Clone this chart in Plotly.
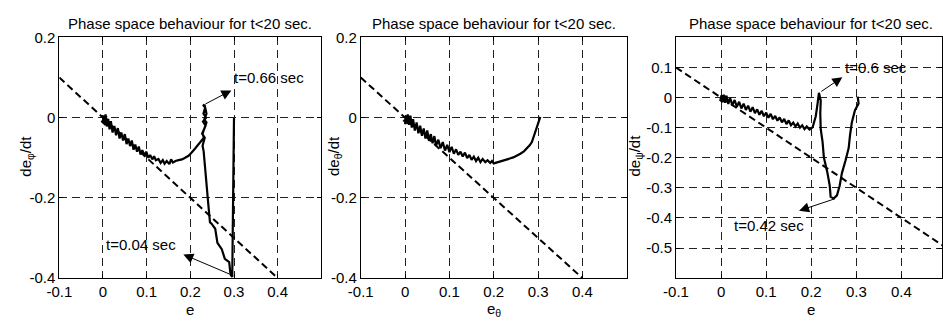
import plotly.graph_objects as go

FONT = "Arial, Liberation Sans, sans-serif"

title_text = "Phase space behaviour for t<20 sec."
ylabels = ["de<sub>φ</sub>/dt", "de<sub>θ</sub>/dt", "de<sub>ψ</sub>/dt"]
xlabels = ["e", "e<sub>θ</sub>", "e"]

x_ticks = [-0.1, 0, 0.1, 0.2, 0.3, 0.4]
x_ticktext = ["-0.1", "0", "0.1", "0.2", "0.3", "0.4"]
y_ticks_12 = [-0.4, -0.2, 0, 0.2]
y_ticktext_12 = ["-0.4", "-0.2", "0", "0.2"]
y_ticks_3 = [-0.5, -0.4, -0.3, -0.2, -0.1, 0, 0.1]
y_ticktext_3 = ["-0.5", "-0.4", "-0.3", "-0.2", "-0.1", "0", "0.1"]

# sliding surface s = e + de/dt = 0
surf_x_12 = [-0.1, 0.4]
surf_y_12 = [0.1, -0.4]
surf_x_3 = [-0.1, 0.5]
surf_y_3 = [0.1, -0.5]

# phi trajectory
phi_e = [0.300, 0.299, 0.298, 0.297, 0.296, 0.292, 0.289, 0.279, 0.272, 0.262, 0.260, 0.257,
         0.249, 0.245, 0.242, 0.238, 0.234, 0.2305, 0.228, 0.233, 0.227, 0.235, 0.229, 0.236,
         0.230, 0.234, 0.229, 0.233, 0.237, 0.232, 0.237, 0.233, 0.228, 0.231, 0.224, 0.220,
         0.211, 0.203, 0.196, 0.188, 0.181, 0.173, 0.166, 0.160, 0.156, 0.152, 0.146, 0.141,
         0.137, 0.132, 0.127, 0.121, 0.117, 0.113, 0.108, 0.104, 0.099, 0.095, 0.090, 0.086,
         0.082, 0.078, 0.074, 0.070, 0.066, 0.062, 0.058, 0.054, 0.050, 0.046, 0.042, 0.038,
         0.034, 0.030, 0.026, 0.022, 0.018, 0.015, 0.012, 0.009, 0.006, 0.004, 0.002, 0.000,
         0.008, -0.002, 0.006, 0.003, 0.010, -0.001, 0.004, 0.001]
phi_de = [0.000, -0.100, -0.200, -0.300, -0.397, -0.391, -0.360, -0.352, -0.328, -0.312, -0.296, -0.277,
          -0.265, -0.261, -0.226, -0.170, -0.127, -0.084, -0.070, -0.050, -0.040, -0.020, -0.010, 0.000,
          0.010, 0.025, 0.032, 0.030, 0.010, -0.005, -0.012, -0.025, -0.040, -0.050, -0.060, -0.066,
          -0.077, -0.087, -0.095, -0.100, -0.104, -0.106, -0.108, -0.112, -0.104, -0.116, -0.108, -0.115,
          -0.106, -0.113, -0.103, -0.106, -0.096, -0.104, -0.093, -0.100, -0.085, -0.095, -0.081, -0.092,
          -0.072, -0.085, -0.067, -0.080, -0.057, -0.071, -0.052, -0.066, -0.041, -0.057, -0.037, -0.052,
          -0.026, -0.044, -0.021, -0.037, -0.009, -0.029, -0.003, -0.022, 0.008, -0.016, 0.006, -0.014,
          0.004, -0.010, -0.018, 0.005, -0.006, -0.012, 0.002, -0.008]

# theta trajectory
theta_e = [0.305, 0.302, 0.299, 0.296, 0.293, 0.290, 0.286, 0.281, 0.275, 0.268, 0.260, 0.252,
           0.244, 0.236, 0.228, 0.220, 0.212, 0.205, 0.200, 0.196, 0.192, 0.186, 0.181, 0.175,
           0.170, 0.165, 0.160, 0.155, 0.150, 0.145, 0.140, 0.135, 0.130, 0.125, 0.120, 0.115,
           0.110, 0.105, 0.100, 0.095, 0.090, 0.085, 0.080, 0.075, 0.070, 0.066, 0.062, 0.058,
           0.054, 0.050, 0.046, 0.042, 0.038, 0.034, 0.030, 0.026, 0.022, 0.018, 0.015, 0.012,
           0.009, 0.006, 0.004, 0.002, 0.000, 0.007, -0.002, 0.005, 0.009, 0.001, 0.004]
theta_de = [0.002, -0.008, -0.020, -0.030, -0.042, -0.052, -0.061, -0.069, -0.077, -0.084, -0.090, -0.095,
            -0.099, -0.102, -0.105, -0.108, -0.110, -0.112, -0.114, -0.108, -0.113, -0.106, -0.111, -0.103,
            -0.111, -0.100, -0.108, -0.097, -0.105, -0.093, -0.101, -0.087, -0.097, -0.085, -0.093, -0.079,
            -0.090, -0.073, -0.086, -0.068, -0.082, -0.061, -0.076, -0.055, -0.070, -0.046, -0.064, -0.041,
            -0.058, -0.032, -0.052, -0.027, -0.045, -0.020, -0.039, -0.012, -0.032, -0.004, -0.025, 0.005,
            -0.018, 0.008, -0.014, 0.006, -0.016, 0.002, -0.008, -0.013, 0.004, -0.010, -0.002]

# psi trajectory
psi_e = [0.303, 0.305, 0.297, 0.290, 0.286, 0.283, 0.276, 0.268, 0.263, 0.257, 0.250, 0.243,
         0.241, 0.236, 0.228, 0.225, 0.221, 0.220, 0.221, 0.217, 0.214, 0.210, 0.203, 0.196,
         0.190, 0.185, 0.180, 0.175, 0.170, 0.165, 0.160, 0.155, 0.150, 0.145, 0.140, 0.135,
         0.130, 0.125, 0.120, 0.115, 0.110, 0.105, 0.100, 0.095, 0.090, 0.085, 0.080, 0.075,
         0.070, 0.065, 0.060, 0.055, 0.050, 0.045, 0.040, 0.035, 0.030, 0.025, 0.020, 0.016,
         0.012, 0.009, 0.006, 0.004, 0.001, -0.002, 0.008, 0.002, 0.006, 0.010, -0.001, 0.003]
psi_de = [0.003, -0.020, -0.042, -0.083, -0.125, -0.168, -0.209, -0.251, -0.293, -0.325, -0.335, -0.330,
          -0.293, -0.251, -0.199, -0.146, -0.105, -0.052, -0.010, 0.016, -0.020, -0.062, -0.099, -0.106,
          -0.096, -0.105, -0.092, -0.100, -0.086, -0.096, -0.083, -0.092, -0.076, -0.088, -0.071, -0.082,
          -0.066, -0.077, -0.061, -0.072, -0.054, -0.067, -0.050, -0.062, -0.044, -0.057, -0.039, -0.052,
          -0.032, -0.047, -0.027, -0.041, -0.020, -0.036, -0.014, -0.031, -0.008, -0.025, -0.002, -0.021,
          0.006, -0.017, 0.010, -0.015, 0.008, -0.011, 0.008, -0.016, 0.004, -0.006, -0.012, 0.000]

# arrow annotations: (text, text_x, text_y, tip_x, tip_y, tail_x, tail_y, panel)
notes = [
    ("t=0.66 sec", 0.295, 0.101, 0.294, 0.068, 0.231, 0.032, 1),
    ("t=0.04 sec", 0.002, -0.315, 0.184, -0.341, 0.292, -0.391, 1),
    ("t=0.6 sec", 0.271, 0.099, 0.269, 0.068, 0.219, 0.017, 3),
    ("t=0.42 sec", 0.0245, -0.424, 0.173, -0.376, 0.255, -0.335, 3),
]

W, H = 943, 324
xdom = [[47 / W, 313 / W], [353 / W, 623 / W], [673 / W, 1.0]]
ydom = [1 - 284 / H, 1 - 30 / H]
xranges = [[-0.1, 0.5], [-0.1, 0.5], [-0.1, 0.49]]
yranges = [[-0.4, 0.2], [-0.4, 0.2], [-0.6, 0.2]]

fig = go.Figure()

traj = [(phi_e, phi_de), (theta_e, theta_de), (psi_e, psi_de)]
surfs = [(surf_x_12, surf_y_12), (surf_x_12, surf_y_12), (surf_x_3, surf_y_3)]
for i in range(3):
    xa = "x" if i == 0 else f"x{i+1}"
    ya = "y" if i == 0 else f"y{i+1}"
    fig.add_trace(go.Scatter(x=surfs[i][0], y=surfs[i][1], mode="lines",
                             line=dict(color="black", width=2, dash="7px,4px"),
                             xaxis=xa, yaxis=ya, showlegend=False, hoverinfo="skip"))
    fig.add_trace(go.Scatter(x=traj[i][0], y=traj[i][1], mode="lines",
                             line=dict(color="black", width=2.2),
                             xaxis=xa, yaxis=ya, showlegend=False, hoverinfo="skip"))

axis_common = dict(showline=True, mirror="ticks", linecolor="black", linewidth=1,
                   ticks="inside", ticklen=4, tickcolor="black",
                   showgrid=True, gridcolor="#222222", gridwidth=1, griddash="8px,5px",
                   zeroline=False, tickfont=dict(family=FONT, size=15, color="black"))

layout = dict(width=W, height=H, margin=dict(l=0, r=0, t=0, b=0),
              paper_bgcolor="white", plot_bgcolor="white", showlegend=False)
for i in range(3):
    xk = "xaxis" if i == 0 else f"xaxis{i+1}"
    yk = "yaxis" if i == 0 else f"yaxis{i+1}"
    ya = "y" if i == 0 else f"y{i+1}"
    xa = "x" if i == 0 else f"x{i+1}"
    layout[xk] = dict(axis_common, domain=xdom[i], range=xranges[i], anchor=ya,
                      tickvals=x_ticks, ticktext=x_ticktext)
    if i < 2:
        tv, tt = y_ticks_12, y_ticktext_12
    else:
        tv, tt = y_ticks_3, y_ticktext_3
    layout[yk] = dict(axis_common, domain=ydom, range=yranges[i], anchor=xa,
                      tickvals=tv, ticktext=tt)
fig.update_layout(**layout)

ann = []
centers = [(47 + 313) / 2, (353 + 623) / 2, (673 + 947) / 2]
ylab_x = [14, 327, 632]
for i in range(3):
    ann.append(dict(text=title_text, xref="paper", yref="paper", x=centers[i] / W, y=1 - 15 / H,
                    xanchor="center", yanchor="middle", showarrow=False,
                    font=dict(family=FONT, size=15, color="black")))
    ann.append(dict(text=xlabels[i], xref="paper", yref="paper", x=centers[i] / W, y=1 - 317 / H,
                    xanchor="center", yanchor="middle", showarrow=False,
                    font=dict(family=FONT, size=15, color="black")))
    ann.append(dict(text=ylabels[i], xref="paper", yref="paper", x=ylab_x[i] / W, y=1 - 155 / H,
                    xanchor="center", yanchor="middle", showarrow=False, textangle=-90,
                    font=dict(family=FONT, size=15, color="black")))

for text, tx, ty, hx, hy, sx, sy, p in notes:
    xa = "x" if p == 1 else f"x{p}"
    ya = "y" if p == 1 else f"y{p}"
    ann.append(dict(text=text, xref=xa, yref=ya, x=tx, y=ty, xanchor="left", yanchor="middle",
                    showarrow=False, font=dict(family=FONT, size=15, color="black")))
    ann.append(dict(text="", xref=xa, yref=ya, x=hx, y=hy, axref=xa, ayref=ya, ax=sx, ay=sy,
                    showarrow=True, arrowhead=2, arrowsize=2, arrowwidth=1, arrowcolor="black"))
fig.update_layout(annotations=ann)

fig.write_html("out.html")
